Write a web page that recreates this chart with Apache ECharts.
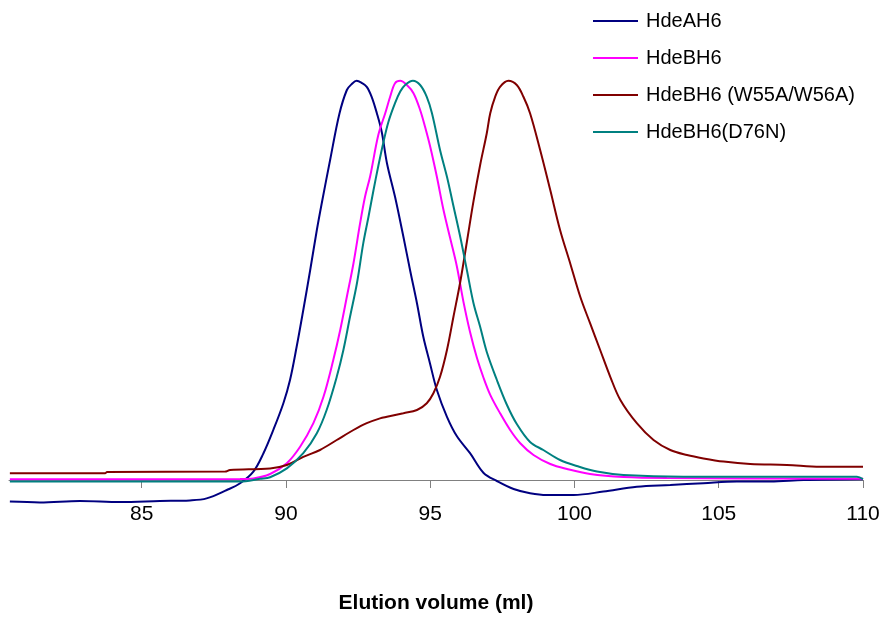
<!DOCTYPE html>
<html>
<head>
<meta charset="utf-8">
<script src="https://cdn.jsdelivr.net/npm/echarts@6/dist/echarts.min.js"></script>
<style>
  html, body { margin: 0; padding: 0; background: #fff; }
  #chart { width: 885px; height: 617px; }
</style>
</head>
<body>
<div id="chart"></div>
<script>
// elution volume (ml) / relative absorbance (peak = 100)
var hdeAVol = [80.43, 81.47, 82.86, 84.25, 85.63, 86.67, 87.25, 87.95, 88.41, 88.87, 89.22, 89.56, 89.91, 90.14, 90.37, 90.60, 90.84, 91.07, 91.24, 91.53, 91.85, 92.11, 92.28, 92.45, 92.62, 92.80, 92.97, 93.15, 93.32, 93.50, 93.78, 94.07, 94.30, 94.54, 94.76, 94.99, 95.23, 95.58, 95.92, 96.38, 96.85, 97.31, 97.89, 98.46, 99.04, 99.97, 101.0, 102.16, 103.32, 104.47, 105.63, 106.79, 107.94, 110.0];
var hdeAAbs = [-5.4, -5.6, -5.25, -5.5, -5.25, -5.1, -4.6, -2.5, -0.8, 2.1, 6.7, 12.5, 19.2, 25, 33.3, 42.5, 52.5, 62.5, 69.2, 80, 91.5, 97.5, 99, 99.8, 99.3, 98.3, 95.8, 91.7, 87, 79.2, 70.8, 60.8, 52.5, 44.2, 35.8, 29.2, 22.5, 15.8, 11, 6.7, 1.75, -0.25, -2.25, -3.3, -3.75, -3.75, -2.9, -1.7, -1.25, -0.8, -0.4, -0.4, 0, 0.2];

var hdeBVol = [80.43, 88.41, 88.87, 89.45, 90.03, 90.49, 90.95, 91.30, 91.64, 91.88, 92.11, 92.34, 92.57, 92.74, 92.92, 93.20, 93.44, 93.61, 93.78, 93.96, 94.19, 94.42, 94.65, 94.82, 95.0, 95.23, 95.46, 95.69, 95.92, 96.15, 96.38, 96.62, 96.85, 97.08, 97.42, 97.77, 98.12, 98.58, 99.16, 99.74, 100.54, 101.7, 103.2, 110.0];
var hdeBAbs = [0.2, 0.25, 0.4, 1.5, 4.2, 8.3, 14.2, 20.8, 30, 37.5, 45.8, 54.2, 64.2, 70.8, 76, 86.25, 91.7, 95.8, 99.2, 99.8, 98.75, 96.7, 92.5, 88.3, 83.3, 75.8, 67.5, 60.5, 53.5, 44.6, 37, 30.5, 25.5, 21.3, 16.7, 12.5, 9.2, 6.25, 4, 2.75, 1.5, 0.75, 0.5, 0.3];

var mutWVol = [80.43, 83.73, 83.80, 87.89, 88.06, 89.45, 90.03, 90.60, 91.18, 91.76, 92.34, 92.80, 93.26, 93.50, 94.07, 94.54, 94.88, 95.11, 95.34, 95.58, 95.81, 96.04, 96.27, 96.50, 96.73, 96.96, 97.08, 97.25, 97.42, 97.71, 98.0, 98.23, 98.46, 98.81, 99.16, 99.50, 99.85, 100.20, 100.54, 100.89, 101.24, 101.59, 102.16, 102.74, 103.32, 103.90, 104.47, 105.17, 106.09, 107.36, 108.52, 110.0];
var mutWAbs = [1.7, 1.7, 2.0, 2.1, 2.5, 2.9, 3.75, 5.8, 7.5, 10, 12.5, 14.2, 15.4, 15.8, 16.7, 17.5, 19.2, 21.7, 25.8, 32.5, 41, 49.5, 59.5, 69.7, 78.75, 86.7, 91.7, 95.8, 98.3, 99.8, 98.75, 95.8, 91.7, 82.5, 72.5, 62.5, 54.2, 45.8, 39.2, 32.5, 25.8, 20, 14.2, 10, 7.5, 6.25, 5.4, 4.6, 4, 3.75, 3.3, 3.3];

var mutDVol = [80.43, 88.41, 89.10, 89.45, 90.03, 90.60, 91.07, 91.41, 91.76, 91.99, 92.22, 92.46, 92.68, 92.86, 93.03, 93.20, 93.38, 93.55, 93.78, 93.96, 94.13, 94.40, 94.65, 94.88, 95.06, 95.34, 95.58, 95.81, 96.04, 96.27, 96.50, 96.73, 96.96, 97.31, 97.66, 98.0, 98.46, 98.92, 99.50, 100.08, 100.78, 101.7, 103.78, 109.79, 110.0];
var mutDAbs = [-0.4, -0.4, 0.3, 0.7, 2.9, 6.7, 11.7, 17.5, 25.8, 32.5, 40.8, 49.2, 59.2, 65.8, 72.3, 78.5, 84.5, 89.5, 94.2, 97.1, 98.75, 99.8, 98.75, 95.8, 91.7, 82.5, 75.8, 68.3, 60.8, 52.5, 44.2, 38.3, 32, 25, 18.75, 14, 9.5, 7.5, 5, 3.5, 2.1, 1.25, 0.8, 0.8, 0.2];

var seriesNames = ['HdeAH6', 'HdeBH6', 'HdeBH6 (W55A/W56A)', 'HdeBH6(D76N)'];
var seriesColors = ['#000080', '#ff00ff', '#800000', '#008080'];
var tickValues = [85, 90, 95, 100, 105, 110];

function zip(xs, ys) {
    var out = [];
    for (var i = 0; i < xs.length; i++) out.push([xs[i], ys[i]]);
    return out;
}

var traces = [zip(hdeAVol, hdeAAbs), zip(hdeBVol, hdeBAbs), zip(mutWVol, mutWAbs), zip(mutDVol, mutDAbs)];

var series = [];
for (var i = 0; i < traces.length; i++) {
    // clip off: the HdeAH6 baseline dips below the axis line
    series.push({
        name: seriesNames[i], type: 'line', data: traces[i],
        smooth: 0.35, symbol: 'none', animation: false, clip: false,
        lineStyle: {color: seriesColors[i], width: 2},
        itemStyle: {color: seriesColors[i]}
    });
}

var font = '"Liberation Sans", Arial, sans-serif';
var option = {
    backgroundColor: '#fff',
    color: seriesColors,
    grid: {left: 9, right: 22, top: 80, bottom: 137, containLabel: false, outerBoundsMode: 'none'},
    legend: {
        orient: 'vertical', left: 588, top: 6,
        icon: 'rect', itemWidth: 45, itemHeight: 2, itemGap: 17,
        textStyle: {fontFamily: font, fontSize: 20, color: '#000', padding: [0, 0, 0, 3]},
        data: seriesNames
    },
    xAxis: {
        type: 'value', min: 80.4, max: 110,
        name: 'Elution volume (ml)', nameLocation: 'middle', nameGap: 113,
        nameTextStyle: {fontFamily: font, fontSize: 21, fontWeight: 'bold', color: '#000'},
        axisLine: {lineStyle: {color: '#808080', width: 1}},
        axisTick: {show: true, length: 8, customValues: tickValues, lineStyle: {color: '#808080'}},
        axisLabel: {customValues: tickValues, margin: 24, fontFamily: font, fontSize: 21, color: '#000'},
        splitLine: {show: false}
    },
    yAxis: {
        type: 'value', min: 0, max: 100, show: false,
        splitLine: {show: false}
    },
    series: series
};

var chart = echarts.init(document.getElementById('chart'));
chart.setOption(option);
</script>
</body>
</html>
